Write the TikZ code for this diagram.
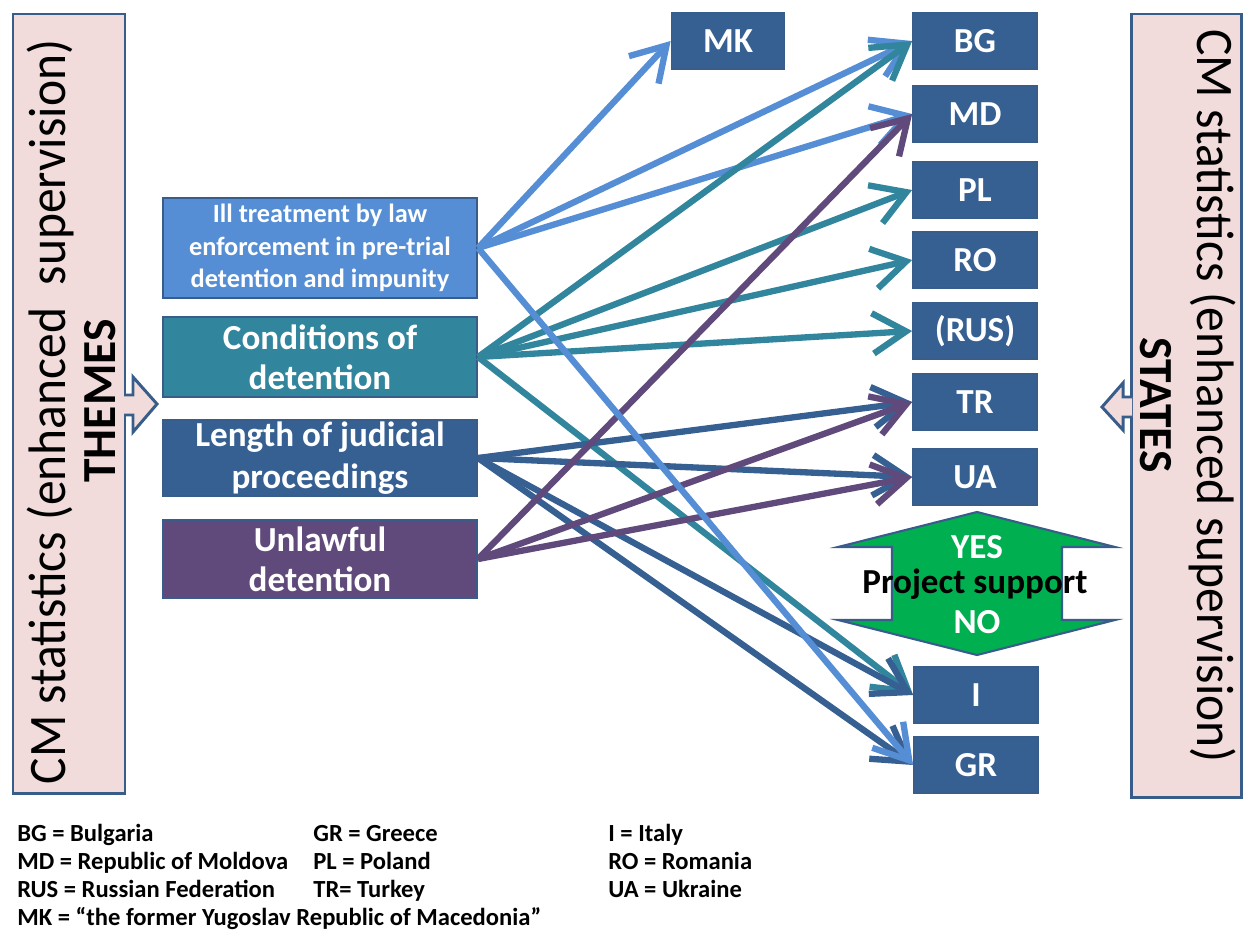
\documentclass[tikz,border=0pt]{standalone}
\usepackage{fontspec}
\setmainfont{Carlito}
\usepackage{xcolor}
\usepackage{graphicx}
\usetikzlibrary{arrows.meta}

\definecolor{illblue}{HTML}{558ED5}
\definecolor{condteal}{HTML}{31859C}
\definecolor{lenblue}{HTML}{376092}
\definecolor{unlpurple}{HTML}{604A7B}
\definecolor{edgeblue}{HTML}{385D8A}
\definecolor{sidepink}{HTML}{F2DCDB}
\definecolor{yesgreen}{HTML}{00B050}

\tikzset{
  themebox/.style={draw=edgeblue, line width=1.2pt, text=white, inner sep=0pt,
    minimum width=6.28cm, align=center},
  statebox/.style={draw=edgeblue, fill=lenblue, line width=1pt, text=white, inner sep=0pt,
    font=\fontsize{20}{24}\selectfont\bfseries, minimum width=2.48cm, minimum height=1.12cm},
  link/.style={line width=3.6pt, -{Straight Barb[length=19pt,width=23pt]}},
  sidebox/.style={draw=edgeblue, fill=sidepink, line width=1.7pt},
  sidetext/.style={inner sep=0pt, anchor=base},
  legend/.style={anchor=base west, inner sep=0pt, font=\fontsize{14}{16}\selectfont\bfseries},
}

\begin{document}
\begin{tikzpicture}[x=0.02cm, y=-0.02cm]
\useasboundingbox (0,0) rectangle (1243,932);

% side panels
\draw [sidebox] (13,14) rectangle (125,793); % themes
\draw [sidebox] (124,395) -- (133,395) -- (133,377) -- (157,404) -- (133,432) -- (133,415) -- (124,415);
\node [sidetext, rotate=90, font=\fontsize{30}{30}\selectfont] (lefttitle) at (65,412)
  {\scalebox{0.94}[1]{CM statistics (enhanced\ \ supervision)}};
\node [sidetext, rotate=90, font=\fontsize{27}{27}\selectfont\bfseries] (themes) at (115,401) {THEMES};
%
\draw [sidebox] (1131,14) rectangle (1241,797); % states
\draw [sidebox] (1132,397) -- (1123,397) -- (1123,383) -- (1102,407) -- (1123,430) -- (1123,417) -- (1132,417);
\node [sidetext, rotate=-90, font=\fontsize{30}{30}\selectfont] (righttitle) at (1197,396)
  {\scalebox{0.94}[1]{CM statistics (enhanced supervision)}};
\node [sidetext, rotate=-90, font=\fontsize{27}{27}\selectfont\bfseries] (states) at (1140,405) {STATES};

% themes
\node [themebox, fill=illblue, minimum height=2cm, font=\fontsize{15}{18.6}\selectfont\bfseries] (ill) at (320,248)
  {Ill treatment by law\\enforcement in pre-trial\\detention and impunity};
\node [themebox, fill=condteal, minimum height=1.6cm, font=\fontsize{20}{22.7}\selectfont\bfseries] (cond) at (320,357)
  {Conditions of\\detention};
\node [themebox, fill=lenblue, minimum height=1.52cm, font=\fontsize{20}{23.6}\selectfont\bfseries] (len) at (320,458)
  {Length of judicial\\proceedings};
\node [themebox, fill=unlpurple, minimum height=1.56cm, font=\fontsize{20}{22.7}\selectfont\bfseries] (unl) at (320,559)
  {Unlawful\\detention};

% states
\node [statebox, minimum width=2.26cm] (mk) at (728,41) {MK};
\node [statebox] (bg) at (975,41) {BG};
\node [statebox] (md) at (975,114) {MD};
\node [statebox] (pl) at (975,190) {PL};
\node [statebox] (ro) at (975,260) {RO};
\node [statebox] (rus) at (975,331) {(RUS)};
\node [statebox] (tr) at (975,402) {TR};
\node [statebox] (ua) at (975,477) {UA};
\node [statebox] (it) at (976,695) {I};
\node [statebox] (gr) at (976,765) {GR};

% project support
\draw [draw=edgeblue, fill=yesgreen, line width=1.2pt] (977,512) -- (1115,547) -- (1062,547) -- (1062,620)
  -- (1115,620) -- (977,655) -- (838,620) -- (892,620) -- (892,547) -- (838,547) -- cycle;
\node [anchor=base, inner sep=0pt, text=white, font=\fontsize{20}{24}\selectfont\bfseries] (yes) at (977,558) {YES};
\node [anchor=base, inner sep=0pt, font=\fontsize{20}{24}\selectfont\bfseries] (support) at (975,593) {Project support};
\node [anchor=base, inner sep=0pt, text=white, font=\fontsize{20}{24}\selectfont\bfseries] (no) at (977,633) {NO};

% links
\draw [link, illblue] (ill.east) -- (mk.west);
\draw [link, illblue] (ill.east) -- (bg.west);
\draw [link, illblue] (ill.east) -- (md.west);
%
\draw [link, condteal] (cond.east) -- (bg.west);
\draw [link, condteal] (cond.east) -- (pl.west);
\draw [link, condteal] (cond.east) -- (ro.west);
\draw [link, condteal] (cond.east) -- (rus.west);
\draw [link, condteal] (cond.east) -- (it.west);
%
\draw [link, lenblue] (len.east) -- (tr.west);
\draw [link, lenblue] (len.east) -- (ua.west);
\draw [link, lenblue] (len.east) -- (it.west);
\draw [link, lenblue] (len.east) -- (gr.west);
%
\draw [link, unlpurple] (unl.east) -- (md.west);
\draw [link, unlpurple] (unl.east) -- (tr.west);
\draw [link, unlpurple] (unl.east) -- (ua.west);
%
\draw [link, illblue] (ill.east) -- (gr.west);

% legend
\node [legend] (lbg) at (17,841) {BG = Bulgaria};
\node [legend] (lmd) at (17,869) {MD = Republic of Moldova};
\node [legend] (lrus) at (17,897) {RUS = Russian Federation};
\node [legend] (lmk) at (17,925) {MK = “the former Yugoslav Republic of Macedonia”};
\node [legend] (lgr) at (313,841) {GR = Greece};
\node [legend] (lpl) at (313,869) {PL = Poland};
\node [legend] (ltr) at (313,897) {TR= Turkey};
\node [legend] (lit) at (608,841) {I = Italy};
\node [legend] (lro) at (608,869) {RO = Romania};
\node [legend] (lua) at (608,897) {UA = Ukraine};

\end{tikzpicture}
\end{document}
